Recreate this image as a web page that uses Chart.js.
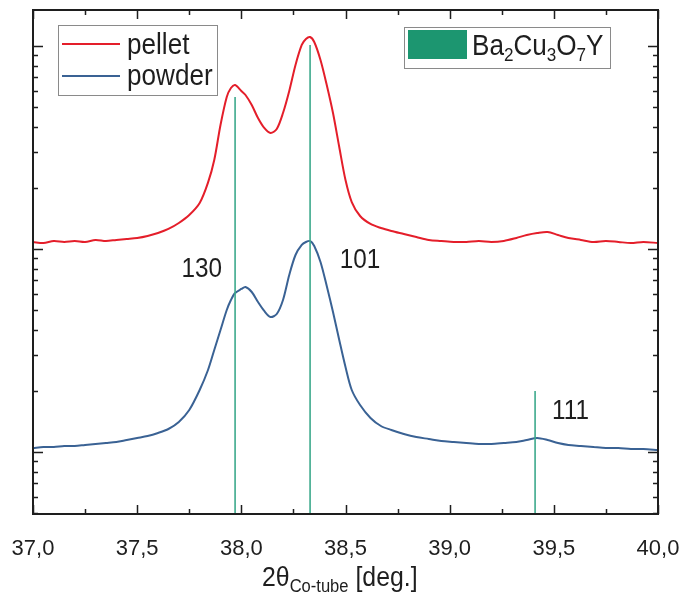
<!DOCTYPE html>
<html>
<head>
<meta charset="utf-8">
<title>XRD pellet vs powder</title>
<script src="https://cdn.jsdelivr.net/npm/chart.js@4.4.1/dist/chart.umd.min.js"></script>
<style>
  html, body { margin: 0; padding: 0; background: #fff; }
  #wrap { position: relative; width: 683px; height: 595px; }
</style>
</head>
<body>
<div id="wrap"><canvas id="xrd" width="683" height="595"></canvas></div>
<script>
(function () {
  'use strict';

  const Chart = window.Chart;

  // 2theta grid shared by both scans
  const theta = [
    37.00, 37.05, 37.10, 37.15, 37.20, 37.25, 37.30, 37.35, 37.40, 37.45,
    37.50, 37.55, 37.60, 37.65, 37.70, 37.75, 37.80, 37.84, 37.87, 37.90,
    37.93, 37.95, 37.97, 38.00, 38.02, 38.05, 38.08, 38.11, 38.14, 38.17,
    38.20, 38.23, 38.26, 38.29, 38.31, 38.33, 38.35, 38.38, 38.41, 38.44,
    38.47, 38.50, 38.53, 38.57, 38.62, 38.67, 38.72, 38.78, 38.84, 38.90,
    38.96, 39.02, 39.08, 39.14, 39.20, 39.26, 39.32, 39.37, 39.42, 39.47,
    39.52, 39.57, 39.63, 39.69, 39.75, 39.81, 39.87, 39.93, 40.00
  ];

  // intensities (counts, log axis)
  const pellet = [
    1083, 1070, 1095, 1083, 1095, 1083, 1108, 1095, 1108, 1120,
    1133, 1159, 1199, 1255, 1343, 1470, 1685, 2123, 2745, 4083,
    5607, 6210, 6426, 6004, 5737, 5122, 4418, 3947, 3727, 3902,
    4677, 6004, 8060, 10114, 10826, 11074, 10464, 8532, 6426, 4677,
    3180, 2187, 1704, 1454, 1328, 1269, 1227, 1186, 1146, 1108,
    1095, 1083, 1083, 1095, 1083, 1095, 1133, 1172, 1199, 1213,
    1172, 1133, 1108, 1083, 1095, 1083, 1070, 1083, 1070
  ];

  const powder = [
    104.6, 105.8, 105.8, 107.1, 107.1, 108.3, 109.5, 110.7, 112.0, 114.6,
    117.2, 119.9, 124.1, 129.8, 140.6, 161.0, 202.0, 253.4, 318.0, 399.0,
    500.7, 560.7, 607.1, 635.3, 649.9, 614.0, 548.1, 495.1, 462.4, 478.4,
    560.7, 744.4, 934.1, 1046.4, 1082.6, 1095.1, 1034.6, 863.0, 657.3, 489.5,
    356.2, 262.2, 202.0, 170.4, 147.1, 134.3, 128.4, 122.7, 118.5, 115.9,
    113.3, 112.0, 110.7, 109.5, 109.5, 110.7, 112.0, 114.6, 117.2, 114.6,
    110.7, 108.3, 107.1, 105.8, 104.6, 104.6, 103.5, 103.5, 102.3
  ];

  // reference pattern Ba2Cu3O7Y
  const refPeaks = [37.97, 38.33, 39.41];
  const refHeights = [5600, 10100, 200];
  const refLabels = ['130', '101', '111'];
  const refLabelX = [37.81, 38.57, 39.58];
  const refLabelY = [815, 903, 163];

  const yMin = 49.5;
  const yMax = 15040;

  const RED = 'rgb(228, 30, 42)';
  const BLUE = 'rgb(58, 98, 148)';
  const GREEN = 'rgb(62, 170, 140)';
  const SWATCH = 'rgb(28, 150, 112)';
  const INK = '#1e1e1e';
  const FONT = '"Liberation Sans", Arial, sans-serif';

  function toPoints(xs, ys) {
    return xs.map((x, i) => ({ x: x, y: ys[i] }));
  }

  function stickPoints() {
    const pts = [];
    refPeaks.forEach((p, i) => {
      pts.push({ x: p, y: yMin }, { x: p, y: refHeights[i] }, { x: p, y: null });
    });
    return pts;
  }

  // condensed text helper (figure text is narrow)
  function text(ctx, str, x, y, size, align, sx) {
    ctx.save();
    ctx.translate(x, y);
    ctx.scale(sx || 0.9, 1);
    ctx.font = size + 'px ' + FONT;
    ctx.textAlign = align || 'left';
    ctx.textBaseline = 'alphabetic';
    ctx.fillStyle = INK;
    ctx.fillText(str, 0, 0);
    const w = ctx.measureText(str).width * (sx || 0.9);
    ctx.restore();
    return w;
  }

  // mixed normal / subscript run, returns end x
  function richText(ctx, parts, x, y, size, subSize, sx) {
    let cx = x;
    parts.forEach((p) => {
      if (p.sub) {
        cx += text(ctx, p.t, cx, y + size * 0.22, subSize, 'left', sx);
      } else {
        cx += text(ctx, p.t, cx, y, size, 'left', sx);
      }
    });
    return cx;
  }

  const framePlugin = {
    id: 'frame',
    afterDatasetsDraw(chart) {
      const ctx = chart.ctx;
      const xs = chart.scales.x;
      const ys = chart.scales.y;
      const a = chart.chartArea;

      ctx.save();
      ctx.strokeStyle = INK;
      ctx.lineWidth = 1.5;
      ctx.beginPath();
      // x ticks, inward, bottom and top
      for (let k = 0; k <= 12; k++) {
        const v = 37 + k * 0.25;
        const px = Math.round(xs.getPixelForValue(v)) + 0.5;
        const len = k % 2 === 0 ? 9 : 5;
        ctx.moveTo(px, a.bottom);
        ctx.lineTo(px, a.bottom - len);
        ctx.moveTo(px, a.top);
        ctx.lineTo(px, a.top + len);
      }
      // y log ticks, inward, left and right
      for (let e = 1; e <= 4; e++) {
        for (let m = 1; m <= 9; m++) {
          const v = m * Math.pow(10, e);
          if (v < yMin || v > yMax) continue;
          const py = Math.round(ys.getPixelForValue(v)) + 0.5;
          const len = m === 1 ? 10 : 5;
          ctx.moveTo(a.left, py);
          ctx.lineTo(a.left + len, py);
          ctx.moveTo(a.right, py);
          ctx.lineTo(a.right - len, py);
        }
      }
      ctx.stroke();

      ctx.lineWidth = 2;
      ctx.strokeRect(a.left, a.top, a.right - a.left, a.bottom - a.top);

      // peak labels
      refLabels.forEach((lab, i) => {
        text(ctx, lab, xs.getPixelForValue(refLabelX[i]),
          ys.getPixelForValue(refLabelY[i]) + 10, 27, 'center', 0.9);
      });

      // legend: scans
      ctx.lineWidth = 1;
      ctx.strokeStyle = '#8a8a8a';
      ctx.strokeRect(58.5, 25.5, 159, 70);
      ctx.lineWidth = 2;
      ctx.strokeStyle = RED;
      ctx.beginPath();
      ctx.moveTo(62, 44);
      ctx.lineTo(120, 44);
      ctx.stroke();
      ctx.strokeStyle = BLUE;
      ctx.beginPath();
      ctx.moveTo(62, 76);
      ctx.lineTo(120, 76);
      ctx.stroke();
      text(ctx, 'pellet', 127, 54, 29, 'left', 0.9);
      text(ctx, 'powder', 127, 85, 29, 'left', 0.9);

      // legend: reference phase
      ctx.lineWidth = 1;
      ctx.strokeStyle = '#8a8a8a';
      ctx.strokeRect(404.5, 27.5, 206, 41);
      ctx.fillStyle = SWATCH;
      ctx.fillRect(408, 30, 59, 29);
      richText(ctx, [
        { t: 'Ba' }, { t: '2', sub: true }, { t: 'Cu' }, { t: '3', sub: true },
        { t: 'O' }, { t: '7', sub: true }, { t: 'Y' }
      ], 472, 55, 29, 19, 0.9);

      // axis title
      richText(ctx, [
        { t: '2\u03b8' }, { t: 'Co-tube', sub: true }, { t: ' [deg.]' }
      ], 262, 586, 27, 18, 0.92);

      ctx.restore();
    }
  };

  window.onload = function () {
    const ctx = document.getElementById('xrd').getContext('2d');

    window.xrdChart = new Chart(ctx, {
      type: 'line',
      data: {
        datasets: [
          {
            label: 'Ba2Cu3O7Y',
            data: stickPoints(),
            borderColor: GREEN,
            borderWidth: 1.6,
            pointRadius: 0,
            spanGaps: false,
            tension: 0,
            order: 0
          },
          {
            label: 'pellet',
            data: toPoints(theta, pellet),
            borderColor: RED,
            borderWidth: 2,
            pointRadius: 0,
            tension: 0.3,
            order: 1
          },
          {
            label: 'powder',
            data: toPoints(theta, powder),
            borderColor: BLUE,
            borderWidth: 2,
            pointRadius: 0,
            tension: 0.3,
            order: 2
          }
        ]
      },
      options: {
        responsive: false,
        animation: false,
        devicePixelRatio: 1,
        layout: { padding: { left: 33, right: 25, top: 10, bottom: 0 } },
        plugins: {
          legend: { display: false },
          tooltip: { enabled: false }
        },
        scales: {
          x: {
            type: 'linear',
            min: 37,
            max: 40,
            grid: { display: false, drawTicks: false },
            border: { display: false },
            ticks: {
              stepSize: 0.5,
              autoSkip: false,
              maxRotation: 0,
              padding: 22,
              color: INK,
              font: { family: FONT, size: 22 },
              callback: (v) => v.toFixed(1).replace('.', ',')
            },
            afterFit: (s) => {
              s.height = 81;
              s.paddingLeft = 0;
              s.paddingRight = 0;
            }
          },
          y: {
            type: 'logarithmic',
            display: false,
            min: yMin,
            max: yMax
          }
        }
      },
      plugins: [framePlugin]
    });
  };

})();
</script>
</body>
</html>
